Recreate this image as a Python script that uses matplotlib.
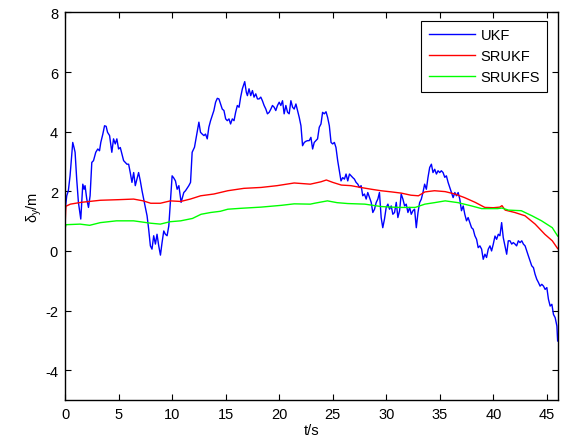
import numpy as np
import matplotlib
matplotlib.use('Agg')
import matplotlib.pyplot as plt

plt.rcParams['font.family'] = ['Liberation Sans', 'DejaVu Sans']
plt.rcParams['mathtext.fontset'] = 'custom'
plt.rcParams['mathtext.rm'] = 'Liberation Sans'
plt.rcParams['axes.unicode_minus'] = False

# UKF : erreur brute, tres bruitee
t_ukf = [0.0, 0.05, 0.16, 0.31, 0.47, 0.72, 0.84, 0.94, 1.09, 1.25, 1.47, 1.66, 1.78, 1.87,
         2.03, 2.19, 2.34, 2.50, 2.66, 2.87, 3.06, 3.22, 3.34, 3.53, 3.69, 3.84, 3.97, 4.16,
         4.37, 4.53, 4.69, 4.84, 5.00, 5.16, 5.31, 5.47, 5.62, 5.78, 5.94, 6.09, 6.25, 6.41,
         6.56, 6.72, 6.87, 7.03, 7.19, 7.34, 7.50, 7.66, 7.81, 7.97, 8.12, 8.28, 8.44, 8.59,
         8.75, 8.91, 9.06, 9.22, 9.37, 9.53, 9.69, 9.84, 10.0, 10.15, 10.31, 10.47, 10.63,
         10.84, 11.09, 11.25, 11.40, 11.56, 11.72, 11.87, 12.09, 12.34, 12.50, 12.65, 12.81,
         12.97, 13.12, 13.28, 13.43, 13.59, 13.75, 13.90, 14.06, 14.22, 14.37, 14.53, 14.68,
         14.84, 15.00, 15.15, 15.31, 15.46, 15.62, 15.78, 15.93, 16.09, 16.25, 16.40, 16.56,
         16.78, 16.93, 17.03, 17.18, 17.34, 17.50, 17.65, 17.81, 17.97, 18.12, 18.28, 18.43,
         18.59, 18.75, 18.90, 19.06, 19.22, 19.37, 19.53, 19.68, 19.84, 20.00, 20.15, 20.31,
         20.46, 20.62, 20.78, 20.93, 21.09, 21.25, 21.40, 21.56, 21.71, 21.87, 22.03, 22.18,
         22.34, 22.50, 22.65, 22.80, 22.96, 23.12, 23.27, 23.43, 23.58, 23.74, 23.90, 24.05,
         24.21, 24.37, 24.52, 24.68, 24.84, 24.99, 25.15, 25.30, 25.46, 25.62, 25.77, 25.93,
         26.09, 26.24, 26.40, 26.56, 26.71, 26.87, 27.02, 27.18, 27.34, 27.49, 27.65, 27.80,
         27.96, 28.12, 28.27, 28.43, 28.59, 28.74, 28.90, 29.05, 29.21, 29.36, 29.52, 29.67,
         29.83, 29.99, 30.15, 30.30, 30.46, 30.61, 30.77, 30.93, 31.08, 31.24, 31.39, 31.55,
         31.71, 31.86, 32.02, 32.18, 32.33, 32.49, 32.64, 32.80, 32.96, 33.11, 33.27, 33.42,
         33.58, 33.74, 33.89, 34.05, 34.21, 34.36, 34.52, 34.68, 34.83, 34.99, 35.14, 35.30,
         35.46, 35.61, 35.77, 35.93, 36.08, 36.24, 36.40, 36.55, 36.71, 36.86, 37.02, 37.18,
         37.33, 37.49, 37.64, 37.80, 37.96, 38.11, 38.27, 38.43, 38.58, 38.74, 38.90, 39.05,
         39.21, 39.36, 39.52, 39.68, 39.83, 39.99, 40.15, 40.30, 40.46, 40.61, 40.77, 40.92,
         41.08, 41.24, 41.39, 41.55, 41.71, 41.86, 42.02, 42.17, 42.33, 42.49, 42.65, 42.80,
         42.96, 43.11, 43.27, 43.43, 43.58, 43.74, 43.89, 44.05, 44.21, 44.36, 44.52, 44.68,
         44.83, 44.99, 45.14, 45.30, 45.46, 45.61, 45.77, 45.93, 46.0]
y_ukf = [1.2, 1.5, 1.85, 2.02, 2.52, 3.64, 3.47, 3.31, 2.41, 1.63, 1.07, 2.24, 2.07, 2.19,
         1.74, 1.46, 1.85, 2.97, 3.03, 3.31, 3.42, 3.36, 3.64, 3.92, 4.20, 4.18, 3.98, 3.87,
         3.31, 3.76, 3.59, 3.76, 3.42, 3.47, 3.25, 3.03, 2.97, 2.91, 2.91, 2.63, 2.30, 2.63,
         2.19, 2.41, 2.63, 2.35, 2.02, 1.74, 1.46, 1.18, 0.73, 0.17, 0.06, 0.51, 0.23, 0.56,
         0.17, -0.14, 0.28, 0.67, 0.56, 0.51, 0.84, 1.63, 2.52, 2.45, 2.35, 2.07, 2.19,
         1.63, 1.96, 2.02, 2.10, 2.19, 2.30, 3.31, 3.48, 3.98, 4.32, 3.98, 3.92,
         3.87, 3.92, 3.76, 4.15, 4.37, 4.54, 4.71, 4.99, 5.12, 5.10, 4.93, 4.76,
         4.71, 4.43, 4.37, 4.43, 4.26, 4.43, 4.37, 4.65, 4.88, 4.82, 5.16, 5.44,
         5.68, 5.32, 5.21, 5.44, 5.21, 5.38, 5.16, 5.27, 5.10, 5.10, 5.16, 5.04,
         4.88, 4.76, 4.60, 4.65, 4.76, 4.88, 4.82, 4.71, 4.88, 4.99, 4.88, 5.04,
         4.60, 4.88, 4.65, 4.60, 5.04, 4.82, 4.76, 4.93, 4.71, 4.48, 4.20, 3.53,
         3.64, 3.68, 3.70, 3.70, 3.81, 3.42, 3.64, 3.70, 3.76, 4.15, 4.26, 4.65,
         4.60, 4.67, 4.48, 4.20, 3.64, 3.59, 3.64, 3.47, 3.03, 2.69, 2.35, 2.46,
         2.41, 2.58, 2.35, 2.58, 2.52, 2.46, 2.41, 2.30, 2.24, 2.13, 2.19, 1.85,
         1.91, 1.74, 1.96, 1.79, 1.63, 1.29, 1.40, 1.62, 1.74, 1.96, 1.12, 0.78,
         1.07, 1.46, 1.57, 1.40, 1.51, 1.23, 1.29, 1.63, 1.12, 1.35, 1.91, 1.74,
         1.51, 1.57, 1.29, 1.46, 1.23, 1.35, 1.40, 0.78, 1.29, 1.62, 1.74, 1.96,
         2.24, 2.07, 2.46, 2.80, 2.91, 2.63, 2.74, 2.58, 2.69, 2.63, 2.69, 2.63,
         2.47, 2.52, 2.30, 2.13, 1.96, 1.79, 1.96, 1.85, 1.96, 1.74, 1.35, 1.51,
         1.23, 1.01, 1.12, 0.95, 0.78, 0.73, 0.51, 0.39, 0.11, 0.17, 0.06, -0.28,
         -0.11, -0.22, 0.06, 0.17, 0.0, 0.23, 0.50, 0.39, 0.56, 0.51, 0.95, 0.45,
         0.17, -0.11, 0.34, 0.34, 0.23, 0.28, 0.23, 0.17, 0.34, 0.28, 0.34, 0.23,
         0.17, 0.0, -0.17, -0.34, -0.50, -0.56, -0.78, -0.95, -1.06, -1.18, -1.12, -1.18,
         -1.29, -1.23, -1.62, -1.85, -1.79, -2.13, -2.24, -2.52, -3.02]

# SRUKF
t_sr = [0, 0.08, 0.5, 1.5, 3.3, 5.0, 6.4, 7.3, 8.0, 8.9, 9.84, 10.8, 11.7, 12.66, 13.9,
        15.2, 16.7, 18.3, 19.8, 21.4, 22.9, 23.9, 24.4, 25.0, 25.8, 26.7, 27.6, 28.6,
        29.5, 30.5, 31.4, 32.3, 33.0, 33.6, 34.5, 35.5, 36.4, 37.3, 38.3, 39.2, 40.0,
        40.6, 40.8, 41.1, 42.0, 42.95, 43.9, 44.8, 45.5, 46.0]
y_sr = [0.8, 1.5, 1.57, 1.63, 1.70, 1.72, 1.74, 1.68, 1.60, 1.60, 1.68, 1.66, 1.74, 1.85,
        1.91, 2.02, 2.10, 2.13, 2.19, 2.28, 2.24, 2.32, 2.38, 2.30, 2.21, 2.19, 2.13, 2.07,
        2.02, 1.98, 1.94, 1.87, 1.85, 1.98, 2.02, 1.99, 1.91, 1.79, 1.63, 1.46, 1.45,
        1.47, 1.52, 1.37, 1.29, 1.18, 0.90, 0.56, 0.34, 0.08]

# SRUKFS (lissage)
t_srs = [0, 0.08, 1.4, 2.3, 3.3, 4.8, 6.4, 8.0, 8.9, 9.8, 10.8, 11.9, 12.7, 13.6, 14.5,
         15.2, 16.4, 18.3, 20.2, 21.4, 22.9, 23.3, 24.5, 25.4, 26.4, 28.0, 29.5, 31.1,
         32.7, 33.6, 34.5, 35.5, 36.7, 37.96, 38.9, 40.4, 40.8, 41.4, 42.6, 43.6, 44.5,
         45.5, 46.0]
y_srs = [0.73, 0.88, 0.90, 0.86, 0.95, 1.01, 1.01, 0.93, 0.90, 0.98, 1.01, 1.09, 1.23,
         1.29, 1.33, 1.40, 1.43, 1.47, 1.53, 1.58, 1.57, 1.60, 1.68, 1.62, 1.59, 1.57,
         1.49, 1.46, 1.46, 1.57, 1.62, 1.68, 1.62, 1.51, 1.42, 1.42, 1.44, 1.37, 1.35,
         1.18, 1.01, 0.78, 0.50]

fig = plt.figure(figsize=(5.63, 4.39), dpi=100)
ax = fig.add_axes([0.1155, 0.0866, 0.875, 0.8827])

ax.plot(t_ukf, y_ukf, color=(0, 0, 1), lw=1.0, label='UKF')
ax.plot(t_sr, y_sr, color=(1, 0, 0), lw=1.0, label='SRUKF')
ax.plot(t_srs, y_srs, color=(0, 1, 0), lw=1.0, label='SRUKFS')

ax.set_xlim(0, 46)
ax.set_ylim(-5, 8)
ax.set_xticks(np.arange(0, 46, 5))
ax.set_yticks(np.arange(-4, 9, 2))
ax.tick_params(direction='in', top=True, right=True, length=4, width=0.8,
               labelsize=10.5, pad=5)
for s in ax.spines.values():
    s.set_linewidth(1.0)

ax.set_xlabel('t/s', fontsize=10.5, labelpad=1.5)
ax.set_ylabel(r'$\mathregular{\delta_y}$/m', fontsize=10.5, labelpad=1)

leg = ax.legend(loc='upper right', bbox_to_anchor=(0.972, 0.951),
                bbox_transform=fig.transFigure, fancybox=False, framealpha=1,
                edgecolor='black', fontsize=10.5, handlelength=3.2,
                handletextpad=0.35, labelspacing=0.5, borderpad=0.5,
                borderaxespad=0)
leg.get_frame().set_linewidth(0.8)

fig.savefig('out.png', dpi=100)
